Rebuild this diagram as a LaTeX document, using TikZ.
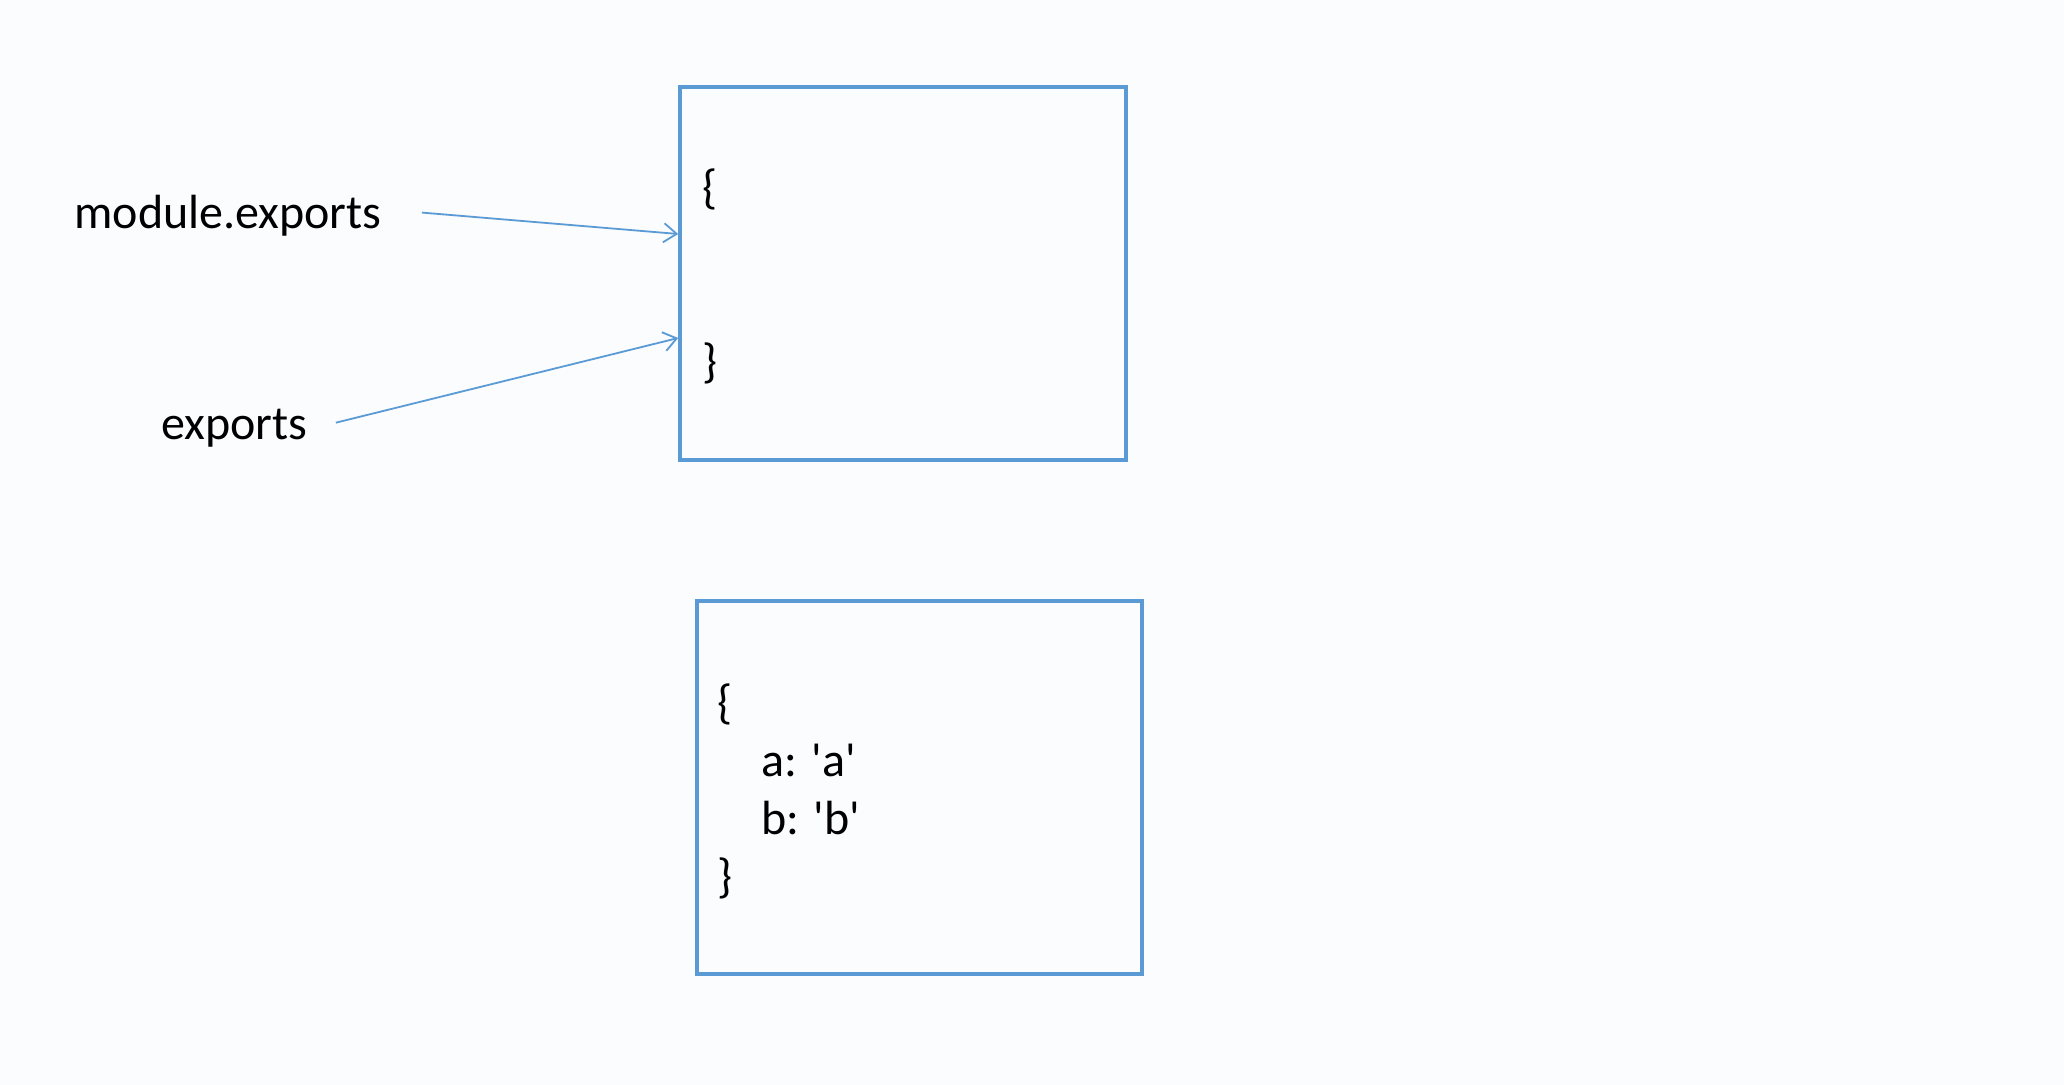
\documentclass[tikz,border=0pt]{standalone}
\usepackage{fontspec}
\setmainfont{Carlito}
\usepackage{tikz}
\usepackage{xcolor}
\usetikzlibrary{positioning, arrows.meta}
\definecolor{objblue}{RGB}{91, 155, 213}
\definecolor{pagebg}{RGB}{250, 252, 254}

\begin{document}
\begin{tikzpicture}[x=0.5pt, y=-0.5pt, every node/.style={align=left, font=\fontsize{24pt}{29pt}\selectfont, inner sep=0pt}]
    \fill[pagebg] (0,0) rectangle (2064,1085);
    \useasboundingbox (0,0) rectangle (2064,1085);

    % the two objects
    \node[draw=objblue, line width=1.8pt, minimum width=223pt, minimum height=186.5pt] (objA) at (903,273.5) {};
    \node[draw=objblue, line width=1.8pt, minimum width=222.5pt, minimum height=186.5pt] (objB) at (919.5,787.5) {};

    % base anchor sits on the last line
    \node[anchor=base west] (bodyA) at (702,378)
      {\{\\
       \mbox{}\\
       \mbox{}\\
       \}};
    \node[anchor=base west] (bodyB) at (717,892)
      {\{\\
       \hspace*{22pt}a: \textquotesingle a\textquotesingle\\
       \hspace*{22pt}b: \textquotesingle b\textquotesingle\\
       \}};

    % the two names
    \node[anchor=base west] (modexp) at (74,229) {module.exports};
    \node[anchor=base west] (exp) at (161,439) {exports};

    \draw[-{Straight Barb[length=6.5pt, width=9.5pt]}, line width=0.9pt, objblue] ([xshift=20pt, yshift=1.8pt]modexp.east) -- ([yshift=19.75pt]objA.west);
    \draw[-{Straight Barb[length=6.5pt, width=9.5pt]}, line width=0.9pt, objblue] ([xshift=14pt, yshift=2.5pt]exp.east) -- ([yshift=-32.25pt]objA.west);
  \end{tikzpicture}
\end{document}
